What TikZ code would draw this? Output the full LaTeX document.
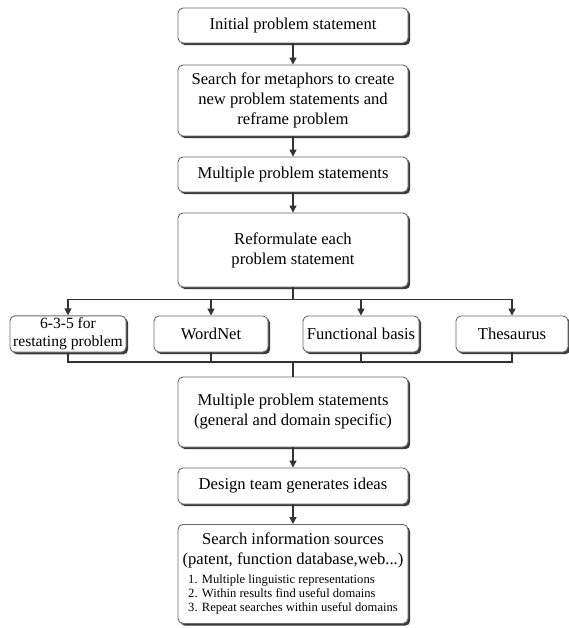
\documentclass[tikz,border=0pt]{standalone}
\usepackage{fontspec}
\setmainfont{Liberation Serif}
\usetikzlibrary{shadows,arrows.meta}
\definecolor{edge}{HTML}{6A6A6A}
\definecolor{shade}{HTML}{3A3A3A}
\definecolor{wire}{HTML}{333333}
\newcommand{\mainf}{\fontsize{16.6}{20}\selectfont}
\newcommand{\narrowf}{\fontsize{15.6}{18}\selectfont}
\newcommand{\listf}{\fontsize{12.6}{13.8}\selectfont}
\begin{document}
\begin{tikzpicture}[x=1pt,y=-1pt,
  box/.style={draw=edge, line width=0.9pt, rounded corners=5pt, fill=white,
    minimum width=230, align=center, inner sep=2pt, font=\mainf,
    drop shadow={shadow xshift=2.2pt, shadow yshift=-2.2pt, fill=shade, opacity=1}},
  small/.style={box, minimum height=36, minimum width=114},
  arr/.style={draw=wire, line width=1.3pt, -{Triangle[length=7pt,width=7pt]}},
  wireline/.style={draw=wire, line width=1.3pt}]
\useasboundingbox (0,0) rectangle (569,628);
\fill[white] (0,0) rectangle (569,628);

\node[box, minimum height=35] (B1) at (293,25.5) {Initial problem statement};
\node[box, minimum height=71] (B2) at (293,100.5)
  {Search for metaphors to create\\new problem statements and\\reframe problem};
\node[box, minimum height=35] (B3) at (293,174.5) {Multiple problem statements};
\node[box, minimum height=74] (B4) at (293,250) {Reformulate each\\problem statement};

\node[small, minimum width=116, inner xsep=0pt, font=\narrowf] (S1) at (68,334)
  {6-3-5 for\\restating problem};
\node[small] (S2) at (211,334) {WordNet};
\node[small, minimum width=116] (S3) at (361,334) {Functional basis};
\node[small, minimum width=112] (S4) at (512,334) {Thesaurus};

\node[box, minimum height=70] (B5) at (293,412)
  {Multiple problem statements\\(general and domain specific)};
\node[box, minimum height=36] (B6) at (293,486) {Design team generates ideas};
\node[box, minimum height=99, anchor=north, inner sep=1pt] (B7) at (293,524)
  {Search information sources\\(patent, function database,web...)\\[5pt]
   \listf\begin{tabular}{@{}l@{}}1. Multiple linguistic representations\\
   2. Within results find useful domains\\
   3. Repeat searches within useful domains\end{tabular}};

% vertical flow
\draw[arr] (B1) -- (B2);
\draw[arr] (B2) -- (B3);
\draw[arr] (B3) -- (B4);

% fan out to the four reformulation aids
\foreach \s in {S1,S2,S3,S4}
  \draw[arr] (B4.south) -- ++(0,12) -| (\s.north);

% gather back into the combined statement box
\coordinate (join) at (293,362);
\foreach \s in {S1,S2,S3,S4}
  \draw[wireline] (\s.south) |- (join);
\draw[wireline] (join) -- (B5.north);

\draw[arr] (B5) -- (B6);
\draw[arr] (B6) -- (B7);
\end{tikzpicture}
\end{document}
